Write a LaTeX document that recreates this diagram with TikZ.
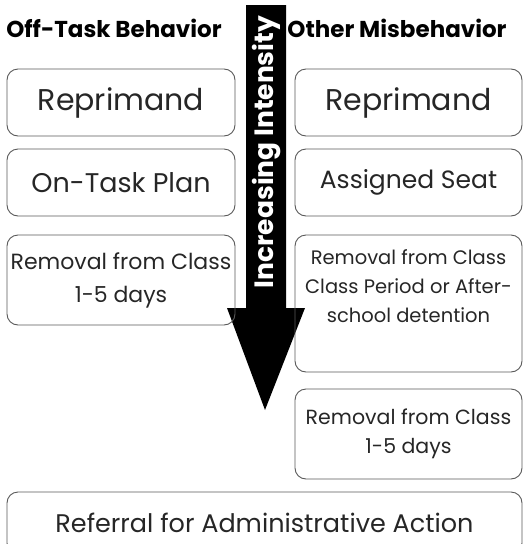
\documentclass[tikz,border=0pt]{standalone}
\usepackage{fontspec}
\setmainfont{Poppins}
\usepackage{tikz}

\begin{document}
\begin{tikzpicture}[x=1pt,y=-1pt,
		stepbox/.style={draw=black!65, line width=0.9pt, rounded corners=11pt, inner sep=0pt, text=black!85, align=center},
		fs/.style args={#1/#2}{font=\fontsize{#1}{#2}\selectfont},
		heading/.style={font=\bfseries\fontsize{23}{26}\selectfont, text=black}]
		% Fix the page size
		\useasboundingbox (0,0) rectangle (525,544);
		
		% Draw the intensity arrow
		\fill [black] (246,5) -- (286,5) -- (286,308) -- (305,308) -- (265,410) -- (227,308) -- (246,308) -- cycle;
		\node [rotate=90, text=white, font=\bfseries\fontsize{26.5}{30}\selectfont] (intensity) at (267,152) {Increasing Intensity};
		
		% Column headings
		\node [heading] (offtask) at (114,28) {Off-Task Behavior};
		\node [heading] (other) at (397,28) {Other Misbehavior};
		
		% Off-task column
		\node [stepbox, fs=30/36, minimum width=228pt, minimum height=67pt] (offrep) at (121,102.5) {Reprimand};
		\node [stepbox, fs=27/32, minimum width=228pt, minimum height=67pt] (offplan) at (121,182.5) {On-Task Plan};
		\node [stepbox, fs=22/33, minimum width=228pt, minimum height=90pt] (offrem) at (121,280) {Removal from Class\\1-5 days};
		
		% Other misbehavior column
		\node [stepbox, fs=30/36, minimum width=227pt, minimum height=67pt] (othrep) at (408.5,102.5) {Reprimand};
		\node [stepbox, fs=25/30, minimum width=227pt, minimum height=67pt] (othseat) at (408.5,182.5) {Assigned Seat};
		\node [stepbox, minimum width=227pt, minimum height=137pt] (othdet) at (408.5,303.5) {};
		\node [align=center, fs=19.5/29, text=black!85, anchor=north] (othdettext) at (408.5,246) {Removal from Class\\Class Period or After-\\school detention};
		\node [stepbox, fs=20.5/28.5, minimum width=227pt, minimum height=90pt] (othrem) at (408.5,434) {Removal from Class\\1-5 days};
		
		% Both columns end here
		\node [stepbox, fs=25.5/30, minimum width=515pt, minimum height=62pt] (referral) at (264.5,523) {Referral for Administrative Action};
	\end{tikzpicture}
\end{document}
